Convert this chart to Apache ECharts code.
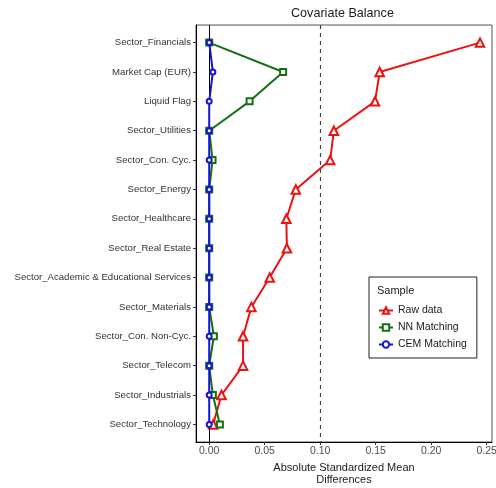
<!DOCTYPE html>
<html>
<head>
<meta charset="utf-8">
<script src="https://cdn.jsdelivr.net/npm/echarts@6/dist/echarts.min.js"></script>
<style>html,body{margin:0;padding:0;background:#fff;}#c{width:496px;height:488px;}</style>
</head>
<body>
<div id="c"></div>
<script>
var categories = [
  'Sector_Financials', 'Market Cap (EUR)', 'Liquid Flag', 'Sector_Utilities',
  'Sector_Con. Cyc.', 'Sector_Energy', 'Sector_Healthcare', 'Sector_Real Estate',
  'Sector_Academic & Educational Services', 'Sector_Materials', 'Sector_Con. Non-Cyc.',
  'Sector_Telecom', 'Sector_Industrials', 'Sector_Technology'
];
var rawData = [0.244, 0.1536, 0.1494, 0.1123, 0.109, 0.078, 0.0695, 0.070, 0.0545, 0.038, 0.0305, 0.0305, 0.0111, 0.0035];
var nnData  = [0.0, 0.0666, 0.0364, 0.0, 0.0030, 0.0, 0.0, 0.0, 0.0, 0.0, 0.0042, 0.0, 0.0033, 0.0096];
var cemData = [0.0, 0.0033, 0.0, 0.0, 0.0, 0.0, 0.0, 0.0, 0.0, 0.0, 0.0, 0.0, 0.0, 0.0];
var xTicks = [0, 0.05, 0.10, 0.15, 0.20, 0.25];
var seriesNames = ['Raw data', 'NN Matching', 'CEM Matching'];

var yIdx = categories.map(function (c, i) { return i; });
function pairs(arr) { return arr.map(function (v, i) { return [v, i]; }); }

var FONT = '"Liberation Sans", Arial, sans-serif';
var chart = echarts.init(document.getElementById('c'), null, {renderer: 'canvas'});
chart.setOption({
  animation: false,
  backgroundColor: '#fff',
  title: [
    {text: 'Covariate Balance', left: 291, top: 7, padding: 0,
     textStyle: {fontFamily: FONT, fontSize: 12.6, fontWeight: 'normal', color: '#1a1a1a'}},
    {text: 'Sample', left: 377, top: 285, padding: 0,
     textStyle: {fontFamily: FONT, fontSize: 11, fontWeight: 'normal', color: '#1a1a1a'}}
  ],
  grid: {left: 196, top: 25, width: 296, height: 417, show: true, borderColor: '#555', borderWidth: 1,
         backgroundColor: 'transparent', containLabel: false, outerBoundsMode: 'none'},
  legend: {
    data: seriesNames, orient: 'vertical', left: 369, top: 277,
    padding: [28, 10, 8, 9], borderColor: '#222', borderWidth: 1,
    itemWidth: 14, itemHeight: 8, itemGap: 6,
    textStyle: {fontFamily: FONT, fontSize: 10.5, color: '#1a1a1a'}
  },
  xAxis: {
    type: 'value', min: -0.0119, max: 0.2548,
    name: 'Absolute Standardized Mean\nDifferences', nameLocation: 'middle', nameGap: 19,
    nameTextStyle: {fontFamily: FONT, fontSize: 11, color: '#1a1a1a', lineHeight: 12, verticalAlign: 'top'},
    axisLine: {show: true, onZero: false, lineStyle: {color: '#000', width: 1}},
    axisTick: {show: true, length: 3, customValues: xTicks, lineStyle: {color: '#333'}},
    axisLabel: {customValues: xTicks, margin: 4, fontFamily: FONT, fontSize: 10.5, color: '#4d4d4d',
      formatter: function (v) { return v.toFixed(2); }},
    splitLine: {show: false}
  },
  yAxis: {
    type: 'value', inverse: true, min: -0.6, max: 13.6,
    axisLine: {show: true, onZero: false, lineStyle: {color: '#000', width: 1}},
    axisTick: {show: true, length: 3, customValues: yIdx, lineStyle: {color: '#333'}},
    axisLabel: {customValues: yIdx, margin: 5, fontFamily: FONT, fontSize: 9.6, color: '#333',
      formatter: function (v) { return categories[Math.round(v)]; }},
    splitLine: {show: false}
  },
  series: [
    {
      name: seriesNames[0], type: 'line', data: pairs(rawData),
      symbol: 'emptyTriangle', symbolSize: 8.5, z: 3,
      lineStyle: {color: '#ee1111', width: 2}, itemStyle: {color: '#ee1111', borderWidth: 1},
      markLine: {
        silent: true, symbol: ['none', 'none'], label: {show: false},
        data: [
          {xAxis: 0, lineStyle: {color: '#000', width: 1, type: 'solid'}},
          {xAxis: 0.1, lineStyle: {color: '#444', width: 1.2, type: [4, 4]}}
        ]
      }
    },
    {
      name: seriesNames[1], type: 'line', data: pairs(nnData),
      symbol: 'emptyRect', symbolSize: 6, z: 4,
      lineStyle: {color: '#137013', width: 2}, itemStyle: {color: '#137013', borderWidth: 1}
    },
    {
      name: seriesNames[2], type: 'line', data: pairs(cemData),
      symbol: 'emptyCircle', symbolSize: 5, z: 5,
      lineStyle: {color: '#1515d6', width: 2}, itemStyle: {color: '#1515d6', borderWidth: 1}
    }
  ]
});
</script>
</body>
</html>
